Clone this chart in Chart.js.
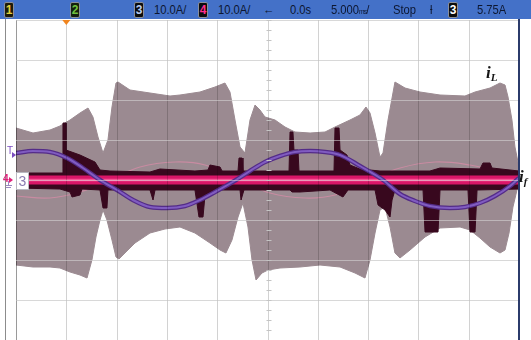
<!DOCTYPE html>
<html>
<head>
<meta charset="utf-8">
<script src="https://cdn.jsdelivr.net/npm/chart.js@4.4.0/dist/chart.umd.min.js"></script>
<style>
  body { margin: 0; width: 531px; height: 340px; overflow: hidden; position: relative; background: #fff; }
  canvas { position: absolute; left: 0; top: 0; }
  #bar { position: absolute; left: 0; top: 0; width: 531px; height: 19px; background: #4471c8; }
  .t { position: absolute; top: 1px; font: 13.5px "Liberation Sans", Arial, sans-serif; line-height: 17px;
       color: #0d1731; transform: scaleX(0.83); transform-origin: 0 0; white-space: nowrap; }
  .t small { font-size: 8px; letter-spacing: -1px; }
  .ch { position: absolute; top: 2px; width: 8px; height: 14px; background: #0c0c0c; border: 1px solid #8a8f9a;
        border-radius: 2px; font: bold 12px "Liberation Sans", Arial, sans-serif; line-height: 14px; text-align: center; }
  #edgeL { position: absolute; left: 5px; top: 19px; width: 1px; height: 321px; background: #8c8c8c; }
  #edgeR { position: absolute; left: 518px; top: 19px; width: 2px; height: 321px; background: #2b3b6b; }
  .lbl { position: absolute; font: italic bold 17px "Liberation Serif", "Times New Roman", serif; color: #161616; }
  .lbl sub { font-size: 11px; vertical-align: -3px; }
  .mk { position: absolute; font: 10px "Liberation Sans", Arial, sans-serif; }
  #box3 { position: absolute; left: 16px; top: 172px; width: 11px; height: 16px; background: #fff; border: 1px solid #b8b8c0;
          font: 14px "Liberation Sans", Arial, sans-serif; line-height: 16px; text-align: center; color: #8a7cb0; }
</style>
</head>
<body>
<canvas id="scope" width="531" height="340"></canvas>

<div id="bar">
  <div class="ch" style="left:4px;color:#e2d13a;background:#1d1a08">1</div>
  <div class="ch" style="left:70px;color:#6fc23c;background:#14200c">2</div>
  <div class="ch" style="left:134px;color:#b9cdf0">3</div>
  <div class="t" style="left:154px">10.0A/</div>
  <div class="ch" style="left:198px;color:#ff2d8c">4</div>
  <div class="t" style="left:218px">10.0A/</div>
  <div class="t" style="left:263px">←</div>
  <div class="t" style="left:290px">0.0s</div>
  <div class="t" style="left:331px">5.000<small>ms</small>/</div>
  <div class="t" style="left:393px">Stop</div>
  <div class="t" style="left:430px">ƚ</div>
  <div class="ch" style="left:448px;color:#ffffff">3</div>
  <div class="t" style="left:477px">5.75A</div>
</div>

<div id="edgeL"></div>
<div id="edgeR"></div>

<div class="mk" style="left:7px;top:145px;color:#7a4cc0">T</div>
<div class="mk" style="left:3px;top:173px;color:#e0207a;font-weight:bold">4</div>
<div id="box3">3</div>

<div class="lbl" style="left:486px;top:63px">i<sub>L</sub></div>
<div class="lbl" style="left:519px;top:167px">i<sub>f</sub></div>

<script>
// time axis in ms (5 ms/div), current in A (10 A/div)
const xTicks = [-25, -20, -15, -10, -5, 0, 5, 10, 15, 20, 25];
const yTicks = [-40, -30, -20, -10, 0, 10, 20, 30, 40];
const trigT = -20;

// inductor current ripple envelope (top / bottom edge)
const upperT = [-25.00,-23.31,-21.62,-20.63,-19.63,-18.64,-17.84,-17.35,-16.85,-16.35,-15.86,-15.46,-15.06,-14.86,-13.67,-11.68,-9.69,-8.70,-6.71,-5.22,-4.23,-3.73,-3.23,-2.73,-2.24,-1.74,-1.24,-0.75,-0.25,0.75,1.74,2.73,4.23,5.72,6.71,8.20,9.19,9.79,10.19,10.69,11.18,11.48,11.98,12.67,13.67,15.16,17.15,19.63,20.63,22.12,23.11,23.61,23.91,24.30,24.60,25.00];
const upperI = [13.0,11.75,12.5,13.5,15.0,16.75,18.0,15.75,10.75,6.75,10.0,18.25,24.25,24.5,22.5,21.75,21.0,21.25,22.0,23.25,24.25,22.0,15.0,8.25,6.75,15.0,18.75,17.5,15.75,15.0,13.25,12.0,11.75,12.0,13.25,15.0,16.25,18.25,16.75,11.75,5.75,6.75,15.0,24.5,23.0,22.0,21.25,21.0,22.0,23.0,24.25,23.75,20.75,15.0,8.25,3.25];
const lowerT = [-25.00,-23.31,-21.62,-20.63,-19.63,-18.64,-17.94,-17.45,-17.05,-16.65,-16.35,-15.96,-15.46,-15.06,-14.76,-14.17,-13.17,-11.68,-10.19,-8.70,-7.21,-5.72,-4.72,-4.13,-3.53,-2.93,-2.44,-1.94,-1.54,-1.14,-0.55,0.05,1.24,3.23,5.22,7.21,8.70,9.69,10.19,10.69,11.18,11.68,12.18,12.67,13.17,14.17,15.66,17.15,19.14,20.13,21.12,22.12,23.11,23.61,24.01,24.40,24.80,25.00];
const lowerI = [-21.25,-21.75,-21.75,-22.0,-23.0,-23.75,-24.5,-20.0,-14.25,-10.0,-7.5,-10.0,-15.0,-19.25,-19.75,-18.25,-15.75,-13.25,-12.25,-11.75,-13.25,-15.75,-17.5,-18.25,-15.0,-9.25,-5.75,-11.75,-20.0,-25.0,-23.25,-22.5,-22.0,-21.75,-21.25,-21.75,-23.25,-24.5,-20.0,-13.25,-7.5,-6.75,-11.75,-18.25,-19.5,-17.5,-14.25,-12.0,-11.75,-12.5,-14.5,-16.75,-18.25,-17.5,-13.25,-6.75,-2.5,-1.25];

// channel 3 (dark trace) band edges
const darkUpT = [-25.00,-20.33,-20.33,-20.03,-20.03,-18.64,-17.15,-16.65,-15.66,-11.68,-10.69,-7.21,-5.91,-5.72,-4.72,-4.52,-2.93,-2.83,-2.53,-2.44,2.14,2.24,2.53,2.63,3.03,3.13,6.61,6.71,7.11,7.21,7.90,8.20,9.19,11.18,16.15,17.15,21.12,21.42,22.12,22.31,25.00];
const darkUpI = [1.75,1.75,14.25,14.25,7.5,6.25,4.5,2.5,2.25,2.0,2.75,2.25,2.5,3.75,3.25,2.25,2.25,5.5,5.5,2.25,2.25,12.0,12.0,7.5,7.5,2.25,2.25,13.0,13.0,7.5,6.25,3.75,2.75,2.25,2.25,3.0,2.75,4.25,4.25,3.0,2.25];
const darkLoT = [-25.00,-20.63,-19.63,-19.43,-18.64,-18.44,-16.65,-16.35,-15.96,-15.86,-11.68,-11.38,-11.18,-7.21,-6.81,-6.41,-6.21,-5.22,-2.73,-2.63,-2.34,2.24,2.44,3.23,6.21,7.50,8.00,10.69,10.99,11.68,12.18,12.38,12.67,15.46,15.66,16.95,17.15,19.93,20.13,20.63,20.83,25.00];
const darkLoI = [-2.0,-2.25,-3.0,-4.25,-3.75,-2.25,-2.5,-7.0,-7.0,-2.5,-2.5,-5.0,-2.5,-2.5,-9.25,-9.25,-3.75,-2.5,-2.5,-5.0,-2.5,-2.5,-3.0,-3.0,-2.5,-4.25,-2.5,-2.5,-6.25,-7.5,-9.25,-5.0,-2.5,-2.5,-13.0,-13.0,-2.5,-2.5,-13.0,-13.0,-2.5,-2.25];

// channel 4 (flat trace)
const ch4T = [-25, 25];
const ch4I = [0, 0];

// grid current i_f
const sineT = [-25.00,-23.31,-21.62,-19.93,-18.34,-16.65,-14.96,-13.37,-11.68,-9.99,-8.20,-6.71,-5.22,-3.13,-1.74,-0.25,1.24,2.73,4.23,5.72,7.21,9.19,11.48,13.17,14.66,16.15,18.14,19.63,21.12,22.61,24.11,25.00];
const sineI = [6.75,7.25,7.0,5.5,3.0,0,-2.5,-5.0,-6.75,-7.0,-6.5,-5.0,-3.0,0,2.25,4.5,6.0,7.0,7.25,7.0,6.25,3.5,0,-3.5,-5.25,-6.5,-7.0,-6.75,-5.75,-4.0,-1.5,0.5];

// faint reference trace
const ghostT = [-25.00,-21.62,-18.64,-15.66,-12.67,-9.19,-6.21,-2.73,0.25,3.73,6.71,10.19,13.17,16.65,20.13,23.11,25.00];
const ghostI = [-4.0,-4.5,-3.0,0,3.25,4.5,3.75,0,-3.25,-4.5,-3.75,0,3.0,4.5,3.75,2.0,0];

const pts = (t, v) => t.map((x, i) => ({ x: x, y: v[i] }));

const ENV = 'rgb(155,138,145)';
const DARK = 'rgb(56,8,30)';

const overlay = {
  id: 'overlay',
  afterDatasetsDraw(chart) {
    const { ctx, chartArea: a, scales: { x, y } } = chart;
    ctx.save();
    ctx.lineWidth = 1;
    // vertical divisions darken over the trace
    ctx.globalCompositeOperation = 'multiply';
    xTicks.forEach((v, i) => {
      const px = Math.round(x.getPixelForValue(v)) + 0.5;
      ctx.strokeStyle = i === 0 ? '#9a9a9a' : '#d2d2d2';
      ctx.beginPath(); ctx.moveTo(px, a.top); ctx.lineTo(px, a.bottom); ctx.stroke();
    });
    ctx.globalCompositeOperation = 'source-over';
    ctx.strokeStyle = 'rgba(218,218,218,0.55)';
    yTicks.forEach(v => {
      const py = Math.round(y.getPixelForValue(v)) + 0.5;
      ctx.beginPath(); ctx.moveTo(a.left, py); ctx.lineTo(a.right, py); ctx.stroke();
    });
    // minor marks on the centre line
    const cx = Math.round(x.getPixelForValue(0)) + 0.5;
    ctx.strokeStyle = '#c4c4c4';
    for (let v = -40; v <= 40; v += 2.5) {
      const py = Math.round(y.getPixelForValue(v)) + 0.5;
      ctx.beginPath(); ctx.moveTo(cx - 2, py); ctx.lineTo(cx + 3, py); ctx.stroke();
    }
    // trigger position marker
    const tx = x.getPixelForValue(trigT);
    ctx.fillStyle = '#f0841e';
    ctx.beginPath(); ctx.moveTo(tx - 4, a.top); ctx.lineTo(tx + 4, a.top); ctx.lineTo(tx, a.top + 5); ctx.closePath(); ctx.fill();
    // channel markers on the left edge
    const sy = y.getPixelForValue(sineI[0]);
    ctx.fillStyle = '#7a4cc0';
    ctx.beginPath(); ctx.moveTo(a.left - 4, sy - 1); ctx.lineTo(a.left, sy + 2); ctx.lineTo(a.left - 4, sy + 5); ctx.fill();
    const zy = y.getPixelForValue(0);
    ctx.fillStyle = '#e0207a';
    ctx.beginPath(); ctx.moveTo(a.left - 7, zy - 3); ctx.lineTo(a.left - 3, zy); ctx.lineTo(a.left - 7, zy + 3); ctx.fill();
    ctx.strokeStyle = '#9a88c0';
    ctx.beginPath();
    ctx.moveTo(a.left - 7.5, zy + 1); ctx.lineTo(a.left - 7.5, zy + 5);
    ctx.moveTo(a.left - 11, zy + 5.5); ctx.lineTo(a.left - 4, zy + 5.5);
    ctx.moveTo(a.left - 10, zy + 7.5); ctx.lineTo(a.left - 5, zy + 7.5);
    ctx.stroke();
    ctx.restore();
  }
};

new Chart(document.getElementById('scope'), {
  type: 'line',
  data: {
    datasets: [
      { data: pts(sineT, sineI), borderColor: 'rgb(128,92,192)', borderWidth: 2, cubicInterpolationMode: 'monotone', order: 0 },
      { data: pts(sineT, sineI), borderColor: 'rgb(84,44,136)', borderWidth: 4.5, cubicInterpolationMode: 'monotone', order: 1 },
      { data: pts(ch4T, ch4I), borderColor: 'rgb(246,86,150)', borderWidth: 2.5, order: 2 },
      { data: pts(ch4T, ch4I), borderColor: 'rgb(218,22,104)', borderWidth: 9, order: 3 },
      { data: pts(darkUpT, darkUpI), borderColor: DARK, borderWidth: 1, backgroundColor: DARK, fill: 'origin', order: 4 },
      { data: pts(darkLoT, darkLoI), borderColor: DARK, borderWidth: 1, backgroundColor: DARK, fill: 'origin', order: 5 },
      { data: pts(ghostT, ghostI), borderColor: 'rgba(236,140,175,0.55)', borderWidth: 1.2, tension: 0.4, order: 6 },
      { data: pts(upperT, upperI), borderColor: ENV, borderWidth: 1, backgroundColor: ENV, fill: 'origin', order: 7 },
      { data: pts(lowerT, lowerI), borderColor: ENV, borderWidth: 1, backgroundColor: ENV, fill: 'origin', order: 8 }
    ]
  },
  options: {
    responsive: false,
    animation: false,
    events: [],
    layout: { padding: { left: 16, right: 12, top: 20, bottom: 0 } },
    elements: { point: { radius: 0 }, line: { borderJoinStyle: 'round' } },
    plugins: { legend: { display: false }, tooltip: { enabled: false } },
    scales: {
      x: {
        type: 'linear', min: -25, max: 25,
        afterBuildTicks: s => { s.ticks = xTicks.map(v => ({ value: v })); },
        ticks: { display: false },
        grid: { display: false, drawTicks: false },
        border: { display: false }
      },
      y: {
        type: 'linear', min: -40, max: 40,
        afterBuildTicks: s => { s.ticks = yTicks.map(v => ({ value: v })); },
        ticks: { display: false },
        grid: { color: '#d6d6d6', drawTicks: false },
        border: { display: false }
      }
    }
  },
  plugins: [overlay]
});
</script>
</body>
</html>
